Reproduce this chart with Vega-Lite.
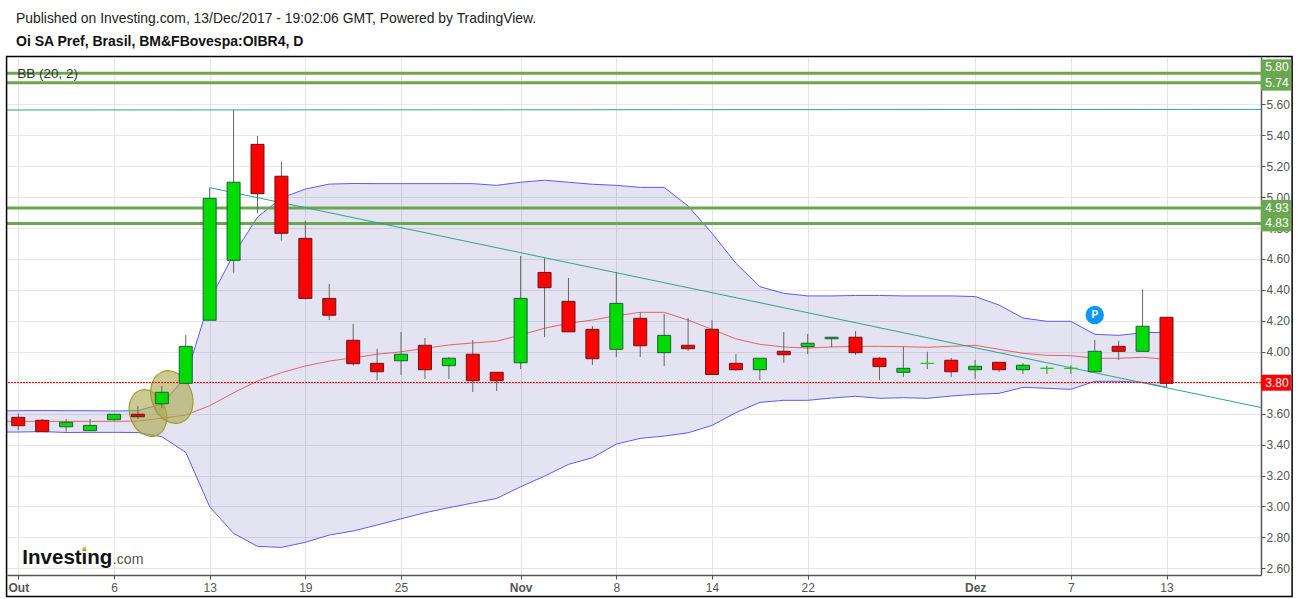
{"$schema":"https://vega.github.io/schema/vega-lite/v6.json","width":1254,"height":518,"autosize":{"type":"none"},"padding":{"left":7,"top":57,"right":38,"bottom":24},"background":"white",
"data":{"values":[{}]},
"config":{"view":{"stroke":null},"font":"Liberation Sans","axis":{"title":null},"scale":{"continuousPadding":0}},
"title":{"text":"Published on Investing.com, 13/Dec/2017 - 19:02:06 GMT, Powered by TradingView.","subtitle":"Oi SA Pref, Brasil, BM&FBovespa:OIBR4, D","anchor":"start","frame":"group","dx":9,"offset":7,"font":"Liberation Sans","fontSize":13.9,"fontWeight":"normal","color":"#222","subtitleFont":"Liberation Sans","subtitleFontSize":14,"subtitleFontWeight":"bold","subtitleColor":"#111","subtitlePadding":9},
"datasets":{
"levels":[{"level":5.80},{"level":5.74},{"level":4.93},{"level":4.83}],
"flatline":[{"i":-0.5,"v":5.563},{"i":52,"v":5.567}],
"trend":[{"i":8,"v":5.061},{"i":52,"v":3.638}],
"bands":[
{"i":-1,"upper":3.617,"lower":3.481,"basis":3.550},{"i":0,"upper":3.619,"lower":3.481,"basis":3.550},{"i":1,"upper":3.620,"lower":3.484,"basis":3.550},{"i":2,"upper":3.619,"lower":3.478,"basis":3.550},{"i":3,"upper":3.619,"lower":3.479,"basis":3.550},{"i":4,"upper":3.617,"lower":3.479,"basis":3.550},{"i":5,"upper":3.619,"lower":3.478,"basis":3.552},{"i":6,"upper":3.662,"lower":3.451,"basis":3.570},{"i":7,"upper":3.837,"lower":3.350,"basis":3.591},{"i":8,"upper":4.334,"lower":2.998,"basis":3.651},{"i":9,"upper":4.629,"lower":2.826,"basis":3.735},{"i":10,"upper":4.871,"lower":2.742,"basis":3.811},{"i":11,"upper":4.994,"lower":2.735,"basis":3.865},{"i":12,"upper":5.052,"lower":2.768,"basis":3.908},{"i":13,"upper":5.084,"lower":2.815,"basis":3.940},{"i":14,"upper":5.088,"lower":2.841,"basis":3.961},{"i":15,"upper":5.087,"lower":2.880,"basis":3.984},{"i":16,"upper":5.087,"lower":2.920,"basis":4.000},{"i":17,"upper":5.087,"lower":2.959,"basis":4.022},{"i":18,"upper":5.087,"lower":2.992,"basis":4.044},{"i":19,"upper":5.087,"lower":3.022,"basis":4.057},{"i":20,"upper":5.076,"lower":3.052,"basis":4.068},{"i":21,"upper":5.096,"lower":3.127,"basis":4.108},{"i":22,"upper":5.109,"lower":3.196,"basis":4.152},{"i":23,"upper":5.096,"lower":3.272,"basis":4.184},{"i":24,"upper":5.083,"lower":3.315,"basis":4.205},{"i":25,"upper":5.076,"lower":3.403,"basis":4.233},{"i":26,"upper":5.063,"lower":3.440,"basis":4.255},{"i":27,"upper":5.063,"lower":3.455,"basis":4.255},{"i":28,"upper":4.942,"lower":3.476,"basis":4.205},{"i":29,"upper":4.766,"lower":3.524,"basis":4.145},{"i":30,"upper":4.572,"lower":3.606,"basis":4.083},{"i":31,"upper":4.421,"lower":3.673,"basis":4.048},{"i":32,"upper":4.378,"lower":3.686,"basis":4.031},{"i":33,"upper":4.361,"lower":3.686,"basis":4.024},{"i":34,"upper":4.361,"lower":3.701,"basis":4.031},{"i":35,"upper":4.364,"lower":3.712,"basis":4.035},{"i":36,"upper":4.364,"lower":3.699,"basis":4.035},{"i":37,"upper":4.361,"lower":3.703,"basis":4.033},{"i":38,"upper":4.361,"lower":3.699,"basis":4.029},{"i":39,"upper":4.361,"lower":3.714,"basis":4.035},{"i":40,"upper":4.357,"lower":3.725,"basis":4.042},{"i":41,"upper":4.302,"lower":3.731,"basis":4.016},{"i":42,"upper":4.218,"lower":3.770,"basis":3.990},{"i":43,"upper":4.197,"lower":3.764,"basis":3.977},{"i":44,"upper":4.197,"lower":3.757,"basis":3.975},{"i":45,"upper":4.113,"lower":3.809,"basis":3.958},{"i":46,"upper":4.106,"lower":3.809,"basis":3.958},{"i":47,"upper":4.123,"lower":3.802,"basis":3.964},{"i":48,"upper":4.126,"lower":3.770,"basis":3.951}],
"candles":[
{"i":0,"open":3.576,"close":3.522,"high":3.602,"low":3.494,"dir":"down"},{"i":1,"open":3.557,"close":3.483,"high":3.565,"low":3.483,"dir":"down"},{"i":2,"open":3.515,"close":3.544,"high":3.565,"low":3.483,"dir":"up"},{"i":3,"open":3.490,"close":3.524,"high":3.565,"low":3.490,"dir":"up"},{"i":4,"open":3.561,"close":3.596,"high":3.596,"low":3.554,"dir":"up"},{"i":5,"open":3.596,"close":3.580,"high":3.649,"low":3.565,"dir":"down"},{"i":6,"open":3.664,"close":3.738,"high":3.779,"low":3.636,"dir":"up"},{"i":7,"open":3.796,"close":4.035,"high":4.108,"low":3.790,"dir":"up"},{"i":8,"open":4.204,"close":4.992,"high":5.061,"low":4.204,"dir":"up"},{"i":9,"open":4.591,"close":5.096,"high":5.563,"low":4.511,"dir":"up"},{"i":10,"open":5.341,"close":5.022,"high":5.395,"low":4.895,"dir":"down"},{"i":11,"open":5.135,"close":4.766,"high":5.227,"low":4.718,"dir":"down"},{"i":12,"open":4.733,"close":4.345,"high":4.846,"low":4.339,"dir":"down"},{"i":13,"open":4.345,"close":4.236,"high":4.438,"low":4.205,"dir":"down"},{"i":14,"open":4.074,"close":3.923,"high":4.180,"low":3.910,"dir":"down"},{"i":15,"open":3.925,"close":3.871,"high":4.018,"low":3.817,"dir":"down"},{"i":16,"open":3.942,"close":3.984,"high":4.128,"low":3.850,"dir":"up"},{"i":17,"open":4.042,"close":3.884,"high":4.089,"low":3.824,"dir":"down"},{"i":18,"open":3.910,"close":3.958,"high":3.966,"low":3.824,"dir":"up"},{"i":19,"open":3.984,"close":3.813,"high":4.076,"low":3.740,"dir":"down"},{"i":20,"open":3.867,"close":3.813,"high":3.867,"low":3.746,"dir":"down"},{"i":21,"open":3.929,"close":4.345,"high":4.619,"low":3.888,"dir":"up"},{"i":22,"open":4.513,"close":4.414,"high":4.606,"low":4.095,"dir":"down"},{"i":23,"open":4.326,"close":4.129,"high":4.477,"low":4.129,"dir":"down"},{"i":24,"open":4.145,"close":3.955,"high":4.166,"low":3.914,"dir":"down"},{"i":25,"open":4.016,"close":4.313,"high":4.516,"low":3.966,"dir":"up"},{"i":26,"open":4.216,"close":4.039,"high":4.257,"low":3.966,"dir":"down"},{"i":27,"open":3.994,"close":4.106,"high":4.244,"low":3.908,"dir":"up"},{"i":28,"open":4.042,"close":4.020,"high":4.218,"low":4.005,"dir":"down"},{"i":29,"open":4.145,"close":3.853,"high":4.205,"low":3.853,"dir":"down"},{"i":30,"open":3.925,"close":3.884,"high":3.985,"low":3.877,"dir":"down"},{"i":31,"open":3.884,"close":3.958,"high":3.958,"low":3.817,"dir":"up"},{"i":32,"open":4.003,"close":3.981,"high":4.128,"low":3.929,"dir":"down"},{"i":33,"open":4.033,"close":4.055,"high":4.115,"low":3.985,"dir":"up"},{"i":34,"open":4.084,"close":4.094,"high":4.094,"low":4.029,"dir":"up"},{"i":35,"open":4.094,"close":3.994,"high":4.134,"low":3.979,"dir":"down"},{"i":36,"open":3.958,"close":3.904,"high":3.966,"low":3.817,"dir":"down"},{"i":37,"open":3.867,"close":3.893,"high":4.035,"low":3.837,"dir":"up"},{"i":38,"open":3.925,"close":3.925,"high":4.000,"low":3.888,"dir":"flat"},{"i":39,"open":3.945,"close":3.871,"high":3.960,"low":3.837,"dir":"down"},{"i":40,"open":3.884,"close":3.906,"high":3.947,"low":3.824,"dir":"up"},{"i":41,"open":3.932,"close":3.884,"high":3.932,"low":3.869,"dir":"down"},{"i":42,"open":3.884,"close":3.913,"high":3.927,"low":3.856,"dir":"up"},{"i":43,"open":3.893,"close":3.893,"high":3.908,"low":3.856,"dir":"flat"},{"i":44,"open":3.893,"close":3.893,"high":3.913,"low":3.856,"dir":"flat"},{"i":45,"open":3.871,"close":4.003,"high":4.076,"low":3.871,"dir":"up"},{"i":46,"open":4.035,"close":4.003,"high":4.070,"low":3.947,"dir":"down"},{"i":47,"open":4.003,"close":4.165,"high":4.404,"low":4.003,"dir":"up"},{"i":48,"open":4.223,"close":3.796,"high":4.223,"low":3.770,"dir":"down"}]
},
"layer":[
{"data":{"name":"bands"},"mark":{"type":"area","fill":"#000080","opacity":0.11,"clip":true},
 "encoding":{"x":{"field":"i","type":"quantitative","scale":{"domain":[-0.472,51.95],"nice":false,"zero":false},
  "axis":{"title":null,"orient":"bottom","values":[0,4,8,12,16,21,25,29,33,40,44,48],"tickCount":20,"labelExpr":"{'0':'Out','4':'6','8':'13','12':'19','16':'25','21':'Nov','25':'8','29':'14','33':'22','40':'Dez','44':'7','48':'13'}[''+datum.value]","grid":true,"gridColor":"#e6e6e6","gridWidth":1,"domainColor":"#555","domainWidth":1.5,"tickColor":"#555","tickSize":4,"labelColor":"#555","labelFontSize":12,"labelPadding":3,"labelFont":"Liberation Sans","labelFontWeight":{"condition":{"test":"datum.value==0||datum.value==21||datum.value==40","value":"bold"},"value":"normal"},"labelOverlap":false}},
  "y":{"field":"upper","type":"quantitative","scale":{"domain":[2.5567,5.9058],"nice":false,"zero":false},
  "axis":{"title":null,"orient":"right","values":[2.6,2.8,3.0,3.2,3.4,3.6,3.8,4.0,4.2,4.4,4.6,4.8,5.0,5.2,5.4,5.6],"tickCount":20,"format":".2f","grid":true,"gridColor":"#e6e6e6","gridWidth":1,"domainColor":"#555","domainWidth":1.5,"tickColor":"#555","tickSize":4,"labelColor":"#555","labelFontSize":12,"labelPadding":1,"labelFont":"Liberation Sans","labelOverlap":false}},
  "y2":{"field":"lower"}}},
{"data":{"name":"bands"},"mark":{"type":"line","stroke":"#5c5cf5","strokeWidth":1,"clip":true},"encoding":{"x":{"field":"i","type":"quantitative","scale":{"domain":[-0.472,51.95],"nice":false,"zero":false}},"y":{"field":"upper","type":"quantitative","scale":{"domain":[2.5567,5.9058],"nice":false,"zero":false}}}},
{"data":{"name":"bands"},"mark":{"type":"line","stroke":"#5c5cf5","strokeWidth":1,"clip":true},"encoding":{"x":{"field":"i","type":"quantitative","scale":{"domain":[-0.472,51.95],"nice":false,"zero":false}},"y":{"field":"lower","type":"quantitative","scale":{"domain":[2.5567,5.9058],"nice":false,"zero":false}}}},
{"data":{"name":"bands"},"mark":{"type":"line","stroke":"#e8606e","strokeWidth":1,"clip":true},"encoding":{"x":{"field":"i","type":"quantitative","scale":{"domain":[-0.472,51.95],"nice":false,"zero":false}},"y":{"field":"basis","type":"quantitative","scale":{"domain":[2.5567,5.9058],"nice":false,"zero":false}}}},
{"data":{"name":"levels"},"mark":{"type":"rule","stroke":"#6aa84f","strokeWidth":3},"encoding":{"y":{"field":"level","type":"quantitative","scale":{"domain":[2.5567,5.9058],"nice":false,"zero":false}}}},
{"data":{"name":"flatline"},"mark":{"type":"line","stroke":"#2ca58d","strokeWidth":1,"clip":true},"encoding":{"x":{"field":"i","type":"quantitative","scale":{"domain":[-0.472,51.95],"nice":false,"zero":false}},"y":{"field":"v","type":"quantitative","scale":{"domain":[2.5567,5.9058],"nice":false,"zero":false}}}},
{"data":{"name":"trend"},"mark":{"type":"line","stroke":"#2ca58d","strokeWidth":1,"clip":true},"encoding":{"x":{"field":"i","type":"quantitative","scale":{"domain":[-0.472,51.95],"nice":false,"zero":false}},"y":{"field":"v","type":"quantitative","scale":{"domain":[2.5567,5.9058],"nice":false,"zero":false}}}},
{"mark":{"type":"point","filled":true,"shape":"M0,-1A0.75,1,0,1,1,0,1A0.75,1,0,1,1,0,-1Z","angle":340,"size":2304,"fill":"#a8a64a","fillOpacity":0.6,"stroke":"#a09a2a","strokeWidth":1.2,"strokeOpacity":1,"opacity":1},"encoding":{"x":{"datum":5.42,"type":"quantitative","scale":{"domain":[-0.472,51.95],"nice":false,"zero":false}},"y":{"datum":3.604,"type":"quantitative","scale":{"domain":[2.5567,5.9058],"nice":false,"zero":false}}}},
{"mark":{"type":"point","filled":true,"shape":"M0,-1A0.75,1,0,1,1,0,1A0.75,1,0,1,1,0,-1Z","angle":340,"size":2916,"fill":"#a8a64a","fillOpacity":0.6,"stroke":"#a09a2a","strokeWidth":1.2,"strokeOpacity":1,"opacity":1},"encoding":{"x":{"datum":6.42,"type":"quantitative","scale":{"domain":[-0.472,51.95],"nice":false,"zero":false}},"y":{"datum":3.707,"type":"quantitative","scale":{"domain":[2.5567,5.9058],"nice":false,"zero":false}}}},
{"mark":{"type":"rule","stroke":"#ff0000","strokeWidth":1,"strokeDash":[2,1]},"encoding":{"y":{"datum":3.8013,"type":"quantitative","scale":{"domain":[2.5567,5.9058],"nice":false,"zero":false}}}},
{"data":{"name":"candles"},"mark":{"type":"rule","stroke":"#666666","strokeWidth":1},"encoding":{"x":{"field":"i","type":"quantitative","scale":{"domain":[-0.472,51.95],"nice":false,"zero":false}},"y":{"field":"high","type":"quantitative","scale":{"domain":[2.5567,5.9058],"nice":false,"zero":false}},"y2":{"field":"low"}}},
{"data":{"name":"candles"},"mark":{"type":"bar","size":13,"orient":"vertical","strokeWidth":1},"encoding":{"x":{"field":"i","type":"quantitative","scale":{"domain":[-0.472,51.95],"nice":false,"zero":false}},"y":{"field":"open","type":"quantitative","scale":{"domain":[2.5567,5.9058],"nice":false,"zero":false}},"y2":{"field":"close"},
 "fill":{"field":"dir","type":"nominal","legend":null,"scale":{"domain":["up","down","flat"],"range":["#00dc00","#ff0000","#00dc00"]}},
 "stroke":{"field":"dir","type":"nominal","legend":null,"scale":{"domain":["up","down","flat"],"range":["#1f5c3a","#6b1515","#00dc00"]}}}},
{"data":{"name":"levels"},"transform":[{"filter":"datum.level!=5.8"}],"mark":{"type":"bar","size":16,"orient":"horizontal","fill":"#6aa84f"},"encoding":{"x":{"datum":51.95,"type":"quantitative","scale":{"domain":[-0.472,51.95],"nice":false,"zero":false}},"x2":{"datum":53.2},"y":{"field":"level","type":"quantitative","scale":{"domain":[2.5567,5.9058],"nice":false,"zero":false}}}},
{"data":{"name":"levels"},"transform":[{"filter":"datum.level==5.8"}],"mark":{"type":"bar","size":16,"orient":"horizontal","fill":"#6aa84f","yOffset":-6},"encoding":{"x":{"datum":51.95,"type":"quantitative","scale":{"domain":[-0.472,51.95],"nice":false,"zero":false}},"x2":{"datum":53.2},"y":{"field":"level","type":"quantitative","scale":{"domain":[2.5567,5.9058],"nice":false,"zero":false}}}},
{"data":{"name":"levels"},"transform":[{"filter":"datum.level!=5.8"}],"mark":{"type":"text","color":"white","fontSize":12,"align":"center","baseline":"middle"},"encoding":{"x":{"datum":52.62,"type":"quantitative","scale":{"domain":[-0.472,51.95],"nice":false,"zero":false}},"y":{"field":"level","type":"quantitative","scale":{"domain":[2.5567,5.9058],"nice":false,"zero":false}},"text":{"field":"level","format":".2f"}}},
{"data":{"name":"levels"},"transform":[{"filter":"datum.level==5.8"}],"mark":{"type":"text","color":"white","fontSize":12,"align":"center","baseline":"middle","dy":-6},"encoding":{"x":{"datum":52.62,"type":"quantitative","scale":{"domain":[-0.472,51.95],"nice":false,"zero":false}},"y":{"field":"level","type":"quantitative","scale":{"domain":[2.5567,5.9058],"nice":false,"zero":false}},"text":{"field":"level","format":".2f"}}},
{"mark":{"type":"bar","size":16,"orient":"horizontal","fill":"#ff0000"},"encoding":{"x":{"datum":51.95,"type":"quantitative","scale":{"domain":[-0.472,51.95],"nice":false,"zero":false}},"x2":{"datum":53.2},"y":{"datum":3.8,"type":"quantitative","scale":{"domain":[2.5567,5.9058],"nice":false,"zero":false}}}},
{"mark":{"type":"text","color":"white","fontSize":12,"align":"center","baseline":"middle"},"encoding":{"x":{"datum":52.62,"type":"quantitative","scale":{"domain":[-0.472,51.95],"nice":false,"zero":false}},"y":{"datum":3.8,"type":"quantitative","scale":{"domain":[2.5567,5.9058],"nice":false,"zero":false}},"text":{"value":"3.80"}}},
{"mark":{"type":"point","filled":true,"shape":"circle","size":340,"fill":"#0a97f5","opacity":1},"encoding":{"x":{"datum":45,"type":"quantitative","scale":{"domain":[-0.472,51.95],"nice":false,"zero":false}},"y":{"datum":4.238,"type":"quantitative","scale":{"domain":[2.5567,5.9058],"nice":false,"zero":false}}}},
{"mark":{"type":"text","color":"white","fontSize":10,"fontWeight":"bold","align":"center","baseline":"middle"},"encoding":{"x":{"datum":45,"type":"quantitative","scale":{"domain":[-0.472,51.95],"nice":false,"zero":false}},"y":{"datum":4.238,"type":"quantitative","scale":{"domain":[2.5567,5.9058],"nice":false,"zero":false}},"text":{"value":"P"}}},
{"mark":{"type":"text","color":"#333","fontSize":13.5,"align":"left","baseline":"alphabetic"},"encoding":{"x":{"datum":-0.04,"type":"quantitative","scale":{"domain":[-0.472,51.95],"nice":false,"zero":false}},"y":{"datum":5.772,"type":"quantitative","scale":{"domain":[2.5567,5.9058],"nice":false,"zero":false}},"text":{"value":"BB (20, 2)"}}},
{"mark":{"type":"text","color":"#111","fontSize":20.5,"fontWeight":"bold","align":"left","baseline":"alphabetic"},"encoding":{"x":{"datum":0.17,"type":"quantitative","scale":{"domain":[-0.472,51.95],"nice":false,"zero":false}},"y":{"datum":2.626,"type":"quantitative","scale":{"domain":[2.5567,5.9058],"nice":false,"zero":false}},"text":{"value":"Investing"}}},
{"mark":{"type":"text","color":"#555","fontSize":14.2,"align":"left","baseline":"alphabetic"},"encoding":{"x":{"datum":3.95,"type":"quantitative","scale":{"domain":[-0.472,51.95],"nice":false,"zero":false}},"y":{"datum":2.626,"type":"quantitative","scale":{"domain":[2.5567,5.9058],"nice":false,"zero":false}},"text":{"value":".com"}}},
{"mark":{"type":"point","filled":true,"shape":"circle","size":14,"fill":"#f5a623","opacity":1},"encoding":{"x":{"datum":2.76,"type":"quantitative","scale":{"domain":[-0.472,51.95],"nice":false,"zero":false}},"y":{"datum":2.725,"type":"quantitative","scale":{"domain":[2.5567,5.9058],"nice":false,"zero":false}}}},
{"mark":{"type":"rect","fill":null,"stroke":"#000","strokeWidth":1.5},"encoding":{"x":{"datum":-0.49,"type":"quantitative","scale":{"domain":[-0.472,51.95],"nice":false,"zero":false}},"x2":{"datum":53.25},"y":{"datum":5.909,"type":"quantitative","scale":{"domain":[2.5567,5.9058],"nice":false,"zero":false}},"y2":{"datum":2.418}}}
]}
